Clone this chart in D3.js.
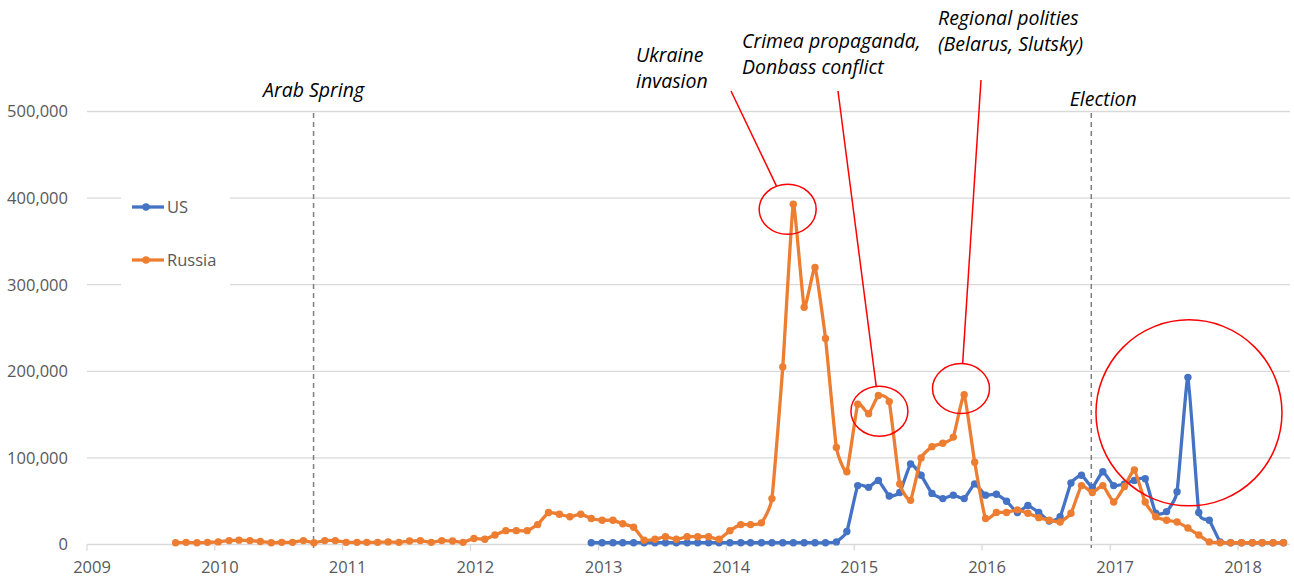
<!DOCTYPE html>
<html>
<head>
<meta charset="utf-8">
<script src="https://cdn.jsdelivr.net/npm/d3@7"></script>
<style>
  body { margin: 0; background: #fff; }
  svg { display: block; font-family: "Open Sans", "Noto Sans", sans-serif; }
  .tick-label { fill: #595959; font-size: 16.5px; }
  .note { fill: #000; font-size: 19.5px; font-style: italic; }
</style>
</head>
<body>
<script>
//wrap everything in a self-executing anonymous function
(function(){

//month of the first point of each series
var russiaStart = [2009, 8]; //Sep 2009
var usStart = [2012, 11];    //Dec 2012

//monthly values, Russia (Sep 2009 - May 2018)
var russiaValues = [
    2000, 2500, 2000, 2500,                                                          //2009
    3000, 4500, 5000, 4500, 3500, 2000, 2500, 2500, 4500, 2000, 4500, 4500,          //2010
    2500, 2500, 2500, 2500, 3000, 2500, 4000, 4500, 2500, 4500, 4000, 2500,          //2011
    7000, 6000, 11000, 16000, 16000, 16000, 23000, 37000, 35000, 32000, 35000, 30000, //2012
    28000, 28000, 24000, 20000, 5000, 6000, 9000, 6000, 9000, 9000, 9000, 6000,      //2013
    16000, 23000, 23000, 25000, 53000, 205000, 393000, 274000, 320000, 238000, 112000, 84000, //2014
    162000, 151000, 172000, 165000, 70000, 51000, 100000, 113000, 117000, 124000, 173000, 95000, //2015
    30000, 37000, 37000, 40000, 36000, 31000, 28000, 26000, 36000, 68000, 60000, 68000, //2016
    49000, 67000, 86000, 49000, 32000, 28000, 26000, 19000, 11000, 3000, 2000, 2000, //2017
    2000, 2000, 2000, 2000, 2000                                                     //2018
];

//monthly values, US (Dec 2012 - May 2018)
var usValues = [
    2000,                                                                            //2012
    2000, 2000, 2000, 2000, 2000, 2000, 2000, 2000, 2000, 2000, 2000, 2000,          //2013
    2000, 2000, 2000, 2000, 2000, 2000, 2000, 2000, 2000, 2000, 3000, 15000,         //2014
    68000, 66000, 74000, 56000, 60000, 93000, 80000, 59000, 53000, 57000, 53000, 70000, //2015
    57000, 58000, 50000, 37000, 45000, 37000, 27000, 32000, 71000, 80000, 66000, 84000, //2016
    68000, 70000, 74000, 76000, 36000, 38000, 61000, 193000, 37000, 28000, 3000, 2000, //2017
    2000, 2000, 2000, 2000, 2000                                                     //2018
];

var seriesNames = ["US", "Russia"];
var seriesColors = ["#4472C4", "#ED7D31"];

//axis ticks
var yearTicks = [2009, 2010, 2011, 2012, 2013, 2014, 2015, 2016, 2017, 2018];
var yTicks = [0, 100000, 200000, 300000, 400000, 500000];

//dashed event lines
var events = [
    {label: "Arab Spring", date: "2010-10-10"},
    {label: "Election", date: "2016-11-08"}
];

//circled peaks with their notes
var callouts = [
    {lines: ["Ukraine", "invasion"], date: "2014-06-25", value: 387000},
    {lines: ["Crimea propaganda,", "Donbass conflict"], date: "2015-03-14", value: 154000},
    {lines: ["Regional polities", "(Belarus, Slutsky)"], date: "2015-11-02", value: 180000}
];
var bigCircle = {date: "2017-08-14", value: 152000};

window.onload = drawChart();

function drawChart(){

    var width = 1294,
        height = 582;

    var svg = d3.select("body")
        .append("svg")
        .attr("width", width)
        .attr("height", height);

    var parse = d3.timeParse("%Y-%m-%d");

    //time scale anchored on the year ticks
    var x = d3.scaleTime()
        .domain([new Date(2009, 0, 1), new Date(2018, 0, 1)])
        .range([87, 1238]);

    var y = d3.scaleLinear()
        .domain([0, 500000])
        .range([544.5, 111.5]);

    var plotLeft = 87, plotRight = 1290;

    //gridlines
    svg.selectAll(".grid")
        .data(yTicks)
        .enter()
        .append("line")
        .attr("x1", plotLeft)
        .attr("x2", plotRight)
        .attr("y1", function(d){ return y(d); })
        .attr("y2", function(d){ return y(d); })
        .attr("stroke", "#d9d9d9")
        .attr("stroke-width", 1.3);

    //y labels
    svg.selectAll(".ylab")
        .data(yTicks)
        .enter()
        .append("text")
        .attr("class", "tick-label")
        .attr("x", 68)
        .attr("y", function(d){ return y(d); })
        .attr("dy", "0.36em")
        .attr("text-anchor", "end")
        .text(d3.format(","));

    //x tick marks and labels
    var years = yearTicks.map(function(yr){ return new Date(yr, 0, 1); });
    svg.selectAll(".xtick")
        .data(years)
        .enter()
        .append("line")
        .attr("x1", function(d){ return x(d); })
        .attr("x2", function(d){ return x(d); })
        .attr("y1", y(0))
        .attr("y2", y(0) + 6)
        .attr("stroke", "#d9d9d9")
        .attr("stroke-width", 1.3);

    svg.selectAll(".xlab")
        .data(years)
        .enter()
        .append("text")
        .attr("class", "tick-label")
        .attr("x", function(d){ return x(d) + 5; })
        .attr("y", 573)
        .attr("text-anchor", "middle")
        .text(d3.timeFormat("%Y"));

    //dashed event lines
    events.forEach(function(ev){
        var ex = x(parse(ev.date));
        svg.append("line")
            .attr("x1", ex).attr("x2", ex)
            .attr("y1", 113).attr("y2", 548)
            .attr("stroke", "#7f7f7f")
            .attr("stroke-width", 1.5)
            .attr("stroke-dasharray", "5,4");
        svg.append("text")
            .attr("class", "note")
            .attr("x", ex + (ev.label == "Election" ? 12 : 0))
            .attr("y", ev.label == "Election" ? 106 : 97)
            .attr("text-anchor", "middle")
            .text(ev.label);
    });

    //build point arrays, one point per month sampled near the 11th
    function toPoints(start, values){
        return values.map(function(v, i){
            return {date: new Date(start[0], start[1] + i, 11), value: v};
        });
    }
    var series = [toPoints(usStart, usValues), toPoints(russiaStart, russiaValues)];

    //light smoothing, close to the spreadsheet's smoothed line
    var line = d3.line()
        .x(function(d){ return x(d.date); })
        .y(function(d){ return y(d.value); })
        .curve(d3.curveCardinal.tension(0.6));

    series.forEach(function(pts, s){
        svg.append("path")
            .datum(pts)
            .attr("fill", "none")
            .attr("stroke", seriesColors[s])
            .attr("stroke-width", 3.3)
            .attr("stroke-linejoin", "round")
            .attr("d", line);
        svg.selectAll(".dot" + s)
            .data(pts)
            .enter()
            .append("circle")
            .attr("cx", function(d){ return x(d.date); })
            .attr("cy", function(d){ return y(d.value); })
            .attr("r", 3.7)
            .attr("fill", seriesColors[s]);
    });

    //legend box covers gridlines
    var legend = svg.append("g");
    legend.append("rect")
        .attr("x", 121).attr("y", 178)
        .attr("width", 109).attr("height", 114)
        .attr("fill", "#fff");
    seriesNames.forEach(function(name, i){
        var ly = 207 + i * 53;
        legend.append("line")
            .attr("x1", 132).attr("x2", 164)
            .attr("y1", ly).attr("y2", ly)
            .attr("stroke", seriesColors[i])
            .attr("stroke-width", 3.3);
        legend.append("circle")
            .attr("cx", 146).attr("cy", ly)
            .attr("r", 3.7)
            .attr("fill", seriesColors[i]);
        legend.append("text")
            .attr("class", "tick-label")
            .attr("x", 167).attr("y", ly)
            .attr("dy", "0.36em")
            .text(name);
    });

    //callout ellipses, leader lines and notes
    var noteLayout = [
        {tx: 636, ty: 62, lx: 731, ly: 91},
        {tx: 742, ty: 48, lx: 838, ly: 91},
        {tx: 938, ty: 25, lx: 981, ly: 80}
    ];
    callouts.forEach(function(c, i){
        var cx = x(parse(c.date)), cy = y(c.value);
        var rx = 28.5, ry = 25;
        var lay = noteLayout[i];
        //leader line ends on the top of the ellipse
        var ang = Math.atan2(lay.ly - cy, lay.lx - cx);
        var t = Math.atan2(Math.sin(ang) / ry, Math.cos(ang) / rx);
        svg.append("line")
            .attr("x1", lay.lx).attr("y1", lay.ly)
            .attr("x2", cx + rx * Math.cos(t)).attr("y2", cy + ry * Math.sin(t))
            .attr("stroke", "#ff0000")
            .attr("stroke-width", 1.5);
        svg.append("ellipse")
            .attr("cx", cx).attr("cy", cy)
            .attr("rx", rx).attr("ry", ry)
            .attr("fill", "none")
            .attr("stroke", "#ff0000")
            .attr("stroke-width", 1.5);
        c.lines.forEach(function(txt, k){
            svg.append("text")
                .attr("class", "note")
                .attr("x", lay.tx)
                .attr("y", lay.ty + k * 25.5)
                .text(txt);
        });
    });

    svg.append("circle")
        .attr("cx", x(parse(bigCircle.date)))
        .attr("cy", y(bigCircle.value))
        .attr("r", 93)
        .attr("fill", "none")
        .attr("stroke", "#ff0000")
        .attr("stroke-width", 1.5);
}; //end of drawChart()

})();
</script>
</body>
</html>
